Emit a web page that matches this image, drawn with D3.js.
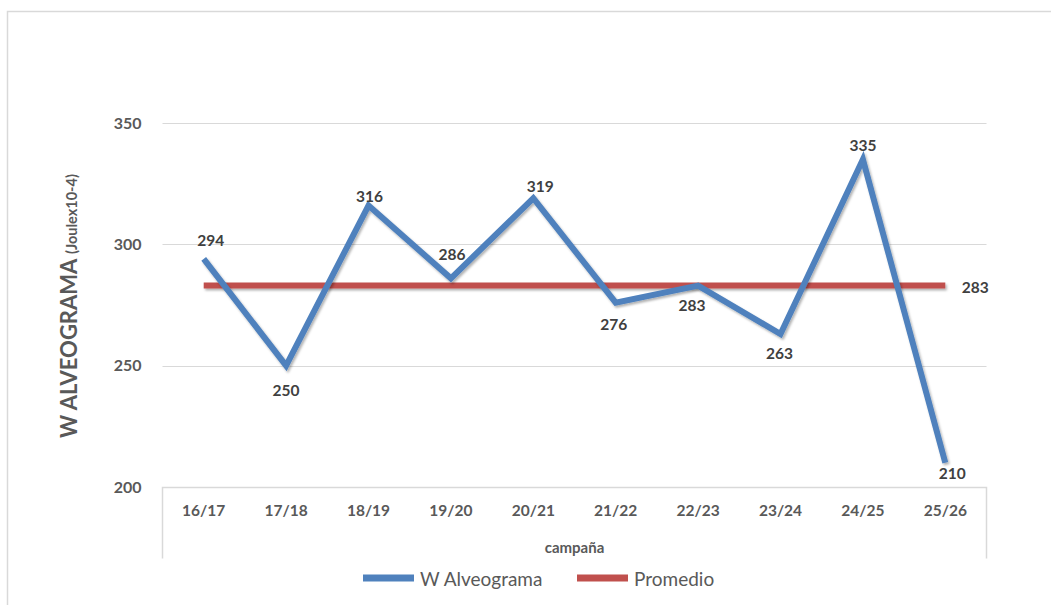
<!DOCTYPE html>
<html>
<head>
<meta charset="utf-8">
<script src="https://cdn.jsdelivr.net/npm/d3@7"></script>
<style>
  html, body { margin: 0; padding: 0; background: #fff; }
  svg { display: block; }
  text { font-family: Lato, "Open Sans", sans-serif; }
</style>
</head>
<body>
<svg id="chart" width="1051" height="605"></svg>
<script>
// Campaign labels and W alveogram values per campaign
const campaigns = ["16/17", "17/18", "18/19", "19/20", "20/21", "21/22", "22/23", "23/24", "24/25", "25/26"];
const wValues = [294, 250, 316, 286, 319, 276, 283, 263, 335, 210];
const average = 283;
const yTicks = [200, 250, 300, 350];
const seriesNames = ["W Alveograma", "Promedio"];

// Where each value label sits relative to its point: [dx, dy]
const labelOffsets = [[7, -19], [0, 24], [1, -10], [1, -24], [7, -12], [-2, 21], [-6, 19], [-1, 19], [0, -14], [7, 10]];

const blue = "#4F81BD", red = "#C0504D";
const svg = d3.select("#chart");

// Drop shadow used by both lines (user-space region so the flat line keeps it)
const defs = svg.append("defs");
const f = defs.append("filter").attr("id", "shadow").attr("filterUnits", "userSpaceOnUse")
  .attr("x", 0).attr("y", 0).attr("width", 1051).attr("height", 605);
f.append("feDropShadow").attr("dx", 1.5).attr("dy", 2).attr("stdDeviation", 1.2)
  .attr("flood-color", "#000").attr("flood-opacity", 0.3);

// Outer chart frame
svg.append("rect").attr("x", 7.5).attr("y", 11.5).attr("width", 1100).attr("height", 700)
  .attr("fill", "#fff").attr("stroke", "#d9d9d9").attr("stroke-width", 1.5);

const plot = { left: 162.5, right: 986.5, top: 123, bottom: 487 };

const x = d3.scaleBand().domain(campaigns).range([plot.left, plot.right]);
const y = d3.scaleLinear().domain([200, 350]).range([plot.bottom, plot.top]);
const cx = c => x(c) + x.bandwidth() / 2;

// Horizontal gridlines
svg.append("g").selectAll("line").data(yTicks.filter(t => t !== 200)).join("line")
  .attr("x1", plot.left).attr("x2", plot.right)
  .attr("y1", d => Math.round(y(d)) + 0.5).attr("y2", d => Math.round(y(d)) + 0.5)
  .attr("stroke", "#d9d9d9").attr("stroke-width", 1);

// Y axis tick labels
const yAxis = svg.append("g").attr("transform", `translate(${plot.left - 21},0)`)
  .call(d3.axisLeft(y).tickValues(yTicks).tickSize(0).tickPadding(0));
yAxis.select(".domain").remove();
yAxis.selectAll("text").attr("font-size", 16).attr("font-weight", 700)
  .attr("fill", "#595959").attr("font-family", "Lato, sans-serif");

// Category axis: baseline plus end walls
const xAxisG = svg.append("g").attr("transform", `translate(0,${plot.bottom + 0.5})`)
  .call(d3.axisBottom(x).tickSize(0).tickPadding(17));
xAxisG.select(".domain").attr("stroke", "#d9d9d9").attr("stroke-width", 1.5)
  .attr("d", `M${plot.left},71V0H${plot.right}V71`).attr("fill", "none");
xAxisG.selectAll("text").attr("font-size", 15.5).attr("font-weight", 700)
  .attr("fill", "#595959").attr("font-family", "Lato, sans-serif");

// Axis titles
svg.append("text").attr("x", (plot.left + plot.right) / 2).attr("y", 553)
  .attr("text-anchor", "middle").attr("font-size", 15).attr("font-weight", 700)
  .attr("fill", "#595959").text("campaña");

const yt = svg.append("text").attr("transform", "translate(77,306) rotate(-90)")
  .attr("text-anchor", "middle").attr("font-weight", 700).attr("fill", "#595959");
yt.append("tspan").attr("font-size", 22).text("W ALVEOGRAMA ");
yt.append("tspan").attr("font-size", 14.5).text("(Joulex10-4)");

// Average line
svg.append("line")
  .attr("x1", cx(campaigns[0])).attr("x2", cx(campaigns[campaigns.length - 1]))
  .attr("y1", y(average)).attr("y2", y(average))
  .attr("stroke", red).attr("stroke-width", 6).attr("filter", "url(#shadow)");

// W alveogram series
const line = d3.line().x((d, i) => cx(campaigns[i])).y(d => y(d));
svg.append("path").datum(wValues).attr("d", line)
  .attr("fill", "none").attr("stroke", blue).attr("stroke-width", 6)
  .attr("stroke-linejoin", "miter").attr("filter", "url(#shadow)");

// Value labels
svg.append("g").selectAll("text").data(wValues).join("text")
  .attr("x", (d, i) => cx(campaigns[i]) + labelOffsets[i][0])
  .attr("y", (d, i) => y(d) + labelOffsets[i][1])
  .attr("dominant-baseline", "central").attr("text-anchor", "middle")
  .attr("font-size", 15.5).attr("font-weight", 700).attr("fill", "#404040")
  .text(d => d);

svg.append("text").attr("x", cx(campaigns[campaigns.length - 1]) + 30).attr("y", y(average) + 1)
  .attr("dominant-baseline", "central").attr("text-anchor", "middle")
  .attr("font-size", 15.5).attr("font-weight", 700).attr("fill", "#404040")
  .text(average);

// Legend
const legendItems = [
  { name: seriesNames[0], color: blue, x: 363 },
  { name: seriesNames[1], color: red, x: 577 }
];
const lg = svg.append("g").selectAll("g").data(legendItems).join("g")
  .attr("transform", d => `translate(${d.x},578)`);
lg.append("line").attr("x1", 0).attr("x2", 51).attr("y1", 0).attr("y2", 0)
  .attr("stroke", d => d.color).attr("stroke-width", 7);
lg.append("text").attr("x", 57).attr("y", 0).attr("dominant-baseline", "central")
  .attr("font-size", 19).attr("fill", "#595959").text(d => d.name);
</script>
</body>
</html>
